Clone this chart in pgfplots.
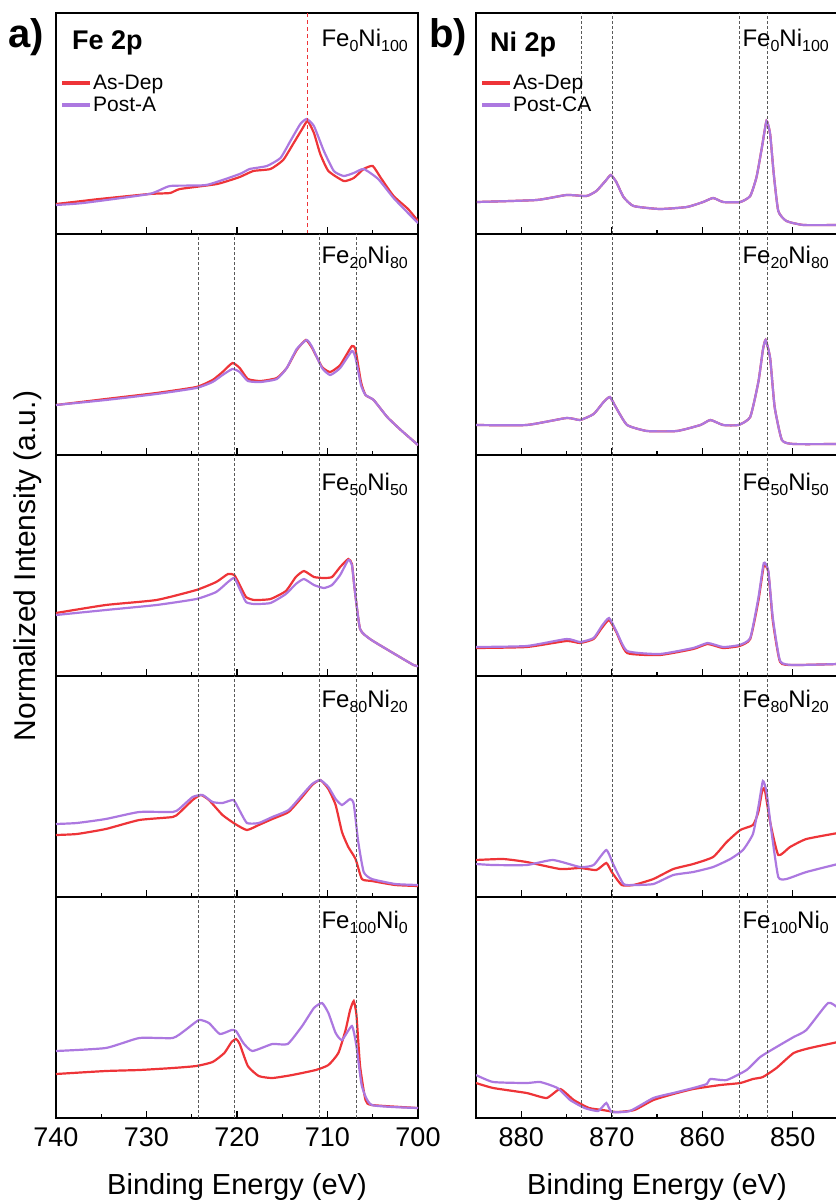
\documentclass[border=0pt]{standalone}
\usepackage{fontspec}
\setmainfont{Liberation Sans}
\usepackage{pgfplots}
\pgfplotsset{compat=1.18}
\definecolor{redc}{RGB}{238,52,56}
\definecolor{purc}{RGB}{172,120,224}
\newcommand{\sub}[1]{\raisebox{-5pt}{\fontsize{16}{16}\selectfont #1}}
\newcommand{\comp}[2]{Fe\sub{#1}Ni\sub{#2}}
\pgfplotsset{
 panel/.style={scale only axis, width=362pt, height=221pt, anchor=north west,
   ymin=0, ymax=221, ytick=\empty, tick align=inside, xtick pos=bottom,
   major tick length=7pt, minor tick length=4pt,
   axis line style={line width=1.1pt}, every tick/.style={black,line width=1.1pt},
   /pgf/number format/assume math mode=true,
   ticklabel style={font=\fontsize{27}{27}\selectfont}, xticklabel style={yshift=-6pt}},
 colL/.style={panel, xmin=700, xmax=740, x dir=reverse, xtick={700,710,720,730,740}, minor xtick={705,715,725,735}},
 colR/.style={panel, xmin=845, xmax=885, x dir=reverse, xtick={850,860,870,880}, minor xtick={855,865,875}},
 nolab/.style={xticklabels={}},
 rl/.style={color=redc, line width=2.2pt, smooth, tension=0.3},
 pl/.style={color=purc, line width=2.2pt, smooth, tension=0.3},
 vd/.style={black!65, line width=0.8pt, dash pattern=on 3pt off 2pt, forget plot},
 leg/.style={legend style={draw=none, fill=none, at={(0.011,0.725)}, anchor=north west,
    font=\fontsize{21}{21}\selectfont, inner sep=0pt, row sep=4pt, nodes={inner sep=1pt}},
  legend cell align=left,
  legend image code/.code={\draw[##1, line width=4pt] (0pt,0pt) -- (28pt,0pt);}},
}
\begin{document}
\begin{tikzpicture}
\useasboundingbox (0,0) rectangle (835pt,-1204pt);
% ---------------- LEFT COLUMN ----------------
\begin{axis}[colL, nolab, leg, at={(56pt,-13pt)}]
\addplot[rl] coordinates {(740,30) (737.1,33) (735.2,35) (729.7,40) (727.4,41) (726.3,45) (722.2,50) (719.7,57) (718.2,63) (716.3,65) (714.9,74) (713.8,90) (712.8,105) (712.2,113) (711.5,101) (710.8,80) (709.9,63) (708.2,53) (707.1,56) (706.0,65) (705.0,68) (704.1,56) (702.7,38) (701.1,25) (700,13)};
\addlegendentry{As-Dep}
\addplot[pl] coordinates {(740,29) (737,31) (729.7,40) (727.4,48) (723.4,49) (719.7,60) (718.6,65) (716.7,68) (715.2,76) (714.1,93) (713,110) (712.3,115) (711.5,108) (710.4,83) (709.3,63) (708.2,58) (707.1,61) (706,65) (704.4,55) (702.7,36) (701.1,21) (700,11)};
\addlegendentry{Post-A}
\draw[redc, line width=1.3pt, dash pattern=on 4pt off 3pt] (axis cs:712.2,0) -- (axis cs:712.2,221);
\end{axis}

\begin{axis}[colL, nolab, at={(56pt,-234pt)}]
\addplot[rl] coordinates {(740,50) (734.5,56) (728.9,62) (724.5,68) (722.7,75) (721.6,83) (720.5,92) (719.7,87) (718.8,76) (717.4,74) (715.6,77) (714.5,87) (713.4,105) (712.4,115) (711.7,107) (710.6,88) (709.7,83) (708.6,90) (707.3,109) (706.9,105) (706.3,73) (705.8,60) (704.9,55) (703.4,38) (701.9,25) (700,10)};
\addplot[pl] coordinates {(740,50) (734.5,55) (728.9,61) (724.5,67) (722.7,73) (721.6,80) (720.5,86) (719.7,83) (718.8,74) (717.4,73) (715.6,76) (714.5,87) (713.4,106) (712.3,115) (711.7,108) (710.6,87) (709.7,80) (708.6,87) (707.3,104) (706.9,97) (706.3,70) (705.8,60) (704.9,55) (703.4,38) (701.9,25) (700,10)};
\addplot[vd] coordinates {(724.3,0) (724.3,221)};
\addplot[vd] coordinates {(720.3,0) (720.3,221)};
\addplot[vd] coordinates {(710.9,0) (710.9,221)};
\addplot[vd] coordinates {(706.8,0) (706.8,221)};
\end{axis}

\begin{axis}[colL, nolab, at={(56pt,-455pt)}]
\addplot[rl] coordinates {(740,63) (734.5,71) (728.9,76) (724.5,86) (722.3,94) (721.0,102) (720.3,101) (719.7,91) (719.0,79) (718.1,76) (716.3,77) (714.6,85) (713.5,99) (712.6,105) (711.5,99) (710.4,98) (709.5,99) (708.6,109) (707.7,117) (707.3,112) (707.0,87) (706.4,47) (705.3,37) (703.5,27) (700.5,11) (700,10)};
\addplot[pl] coordinates {(740,61) (734.5,66) (728.9,71) (724.5,77) (722.3,84) (721.0,94) (720.3,98) (719.7,87) (719.0,74) (718.1,72) (716.3,73) (714.6,82) (713.5,92) (712.6,97) (711.5,91) (710.4,88) (709.5,91) (708.6,101) (707.7,116) (707.3,111) (707.0,87) (706.4,47) (705.3,37) (703.5,27) (700.5,11) (700,10)};
\addplot[vd] coordinates {(724.3,0) (724.3,221)};
\addplot[vd] coordinates {(720.3,0) (720.3,221)};
\addplot[vd] coordinates {(710.9,0) (710.9,221)};
\addplot[vd] coordinates {(706.8,0) (706.8,221)};
\end{axis}

\begin{axis}[colL, nolab, at={(56pt,-676pt)}]
\addplot[rl] coordinates {(740,62) (737.7,63) (734.5,68) (730.8,77) (727.1,80) (726.4,84) (724.9,97) (724.0,102) (723.1,97) (721.6,82) (720.2,73) (718.9,67) (717.6,72) (716.1,78) (714.3,85) (712.8,100) (711.7,112) (710.8,117) (709.9,108) (709.1,92) (708.4,65) (707.7,50) (706.9,38) (706.2,18) (705.1,16) (702.5,12) (700,11)};
\addplot[pl] coordinates {(740,73) (737.7,74) (734.5,78) (730.8,85) (727.1,85) (726.4,88) (724.9,100) (723.8,102) (722.7,95) (721.6,94) (720.4,97) (719.8,88) (718.9,74) (717.6,74) (716.1,80) (714.3,87) (712.8,102) (711.7,113) (710.8,117) (709.9,110) (709.1,98) (708.4,92) (707.5,98) (707.1,93) (706.6,55) (706.0,25) (705.1,18) (702.5,13) (700,12)};
\addplot[vd] coordinates {(724.3,0) (724.3,221)};
\addplot[vd] coordinates {(720.3,0) (720.3,221)};
\addplot[vd] coordinates {(710.9,0) (710.9,221)};
\addplot[vd] coordinates {(706.8,0) (706.8,221)};
\end{axis}

\begin{axis}[colL, at={(56pt,-897pt)}]
\addplot[rl] coordinates {(740,44) (734.5,47) (730.8,48) (727.1,50) (724.5,52) (722.7,56) (721.4,65) (720.6,76) (720.1,79) (719.7,74) (718.8,52) (717.6,42) (716.1,40) (713.9,43) (711.3,48) (709.9,53) (708.8,65) (708.0,88) (707.5,108) (707.1,117) (706.8,103) (706.4,52) (705.8,18) (705.1,13) (700,10)};
\addplot[pl] coordinates {(740,67) (734.5,70) (730.8,80) (727.1,80) (725.7,88) (724.2,98) (723.1,95) (721.9,84) (720.6,88) (720.1,87) (719.3,75) (718.3,67) (716.1,74) (714.4,74) (712.8,92) (711.5,110) (710.6,115) (709.9,105) (709.1,85) (708.4,78) (707.3,92) (706.8,72) (706.2,32) (705.1,13) (700,10)};
\addplot[vd] coordinates {(724.3,0) (724.3,221)};
\addplot[vd] coordinates {(720.3,0) (720.3,221)};
\addplot[vd] coordinates {(710.9,0) (710.9,221)};
\addplot[vd] coordinates {(706.8,0) (706.8,221)};
\end{axis}

% ---------------- RIGHT COLUMN ----------------
\begin{axis}[colR, nolab, leg, at={(476pt,-13pt)}]
\addplot[rl] coordinates {(884.9,32) (878.3,34) (875.0,39) (872.8,38) (871.7,43) (870.7,53) (870.1,59) (869.5,52) (868.7,37) (867.6,28) (864.7,25) (861.7,27) (859.9,32) (858.8,36) (857.7,32) (855.8,32) (854.7,38) (854.0,57) (853.4,87) (852.9,113) (852.5,100) (852.1,60) (851.6,23) (850.7,13) (848.8,9) (845,9)};
\addlegendentry{As-Dep}
\addplot[pl] coordinates {(884.9,32) (878.3,34) (875.0,39) (872.8,38) (871.7,43) (870.7,53) (870.1,59) (869.5,52) (868.7,37) (867.6,28) (864.7,25) (861.7,27) (859.9,32) (858.8,36) (857.7,32) (855.8,32) (854.7,38) (854.0,57) (853.4,87) (852.9,113) (852.5,100) (852.1,60) (851.6,23) (850.7,13) (848.8,9) (845,9)};
\addlegendentry{Post-CA}
\addplot[vd] coordinates {(873.4,0) (873.4,221)};
\addplot[vd] coordinates {(869.9,0) (869.9,221)};
\addplot[vd] coordinates {(855.9,0) (855.9,221)};
\addplot[vd] coordinates {(852.8,0) (852.8,221)};
\end{axis}

\begin{axis}[colR, nolab, at={(476pt,-234pt)}]
\addplot[rl] coordinates {(885,30) (879.4,30) (875.0,37) (873.5,35) (872.0,41) (870.9,53) (870.2,58) (869.5,47) (868.3,30) (866.1,24) (862.8,24) (860.2,30) (859.1,35) (857.7,30) (856.0,30) (854.7,38) (853.8,73) (853.3,105) (853.0,115) (852.5,97) (852.0,48) (851.2,15) (849.9,11) (845,11)};
\addplot[pl] coordinates {(885,30) (879.4,30) (875.0,37) (873.5,35) (872.0,41) (870.9,53) (870.2,58) (869.5,47) (868.3,30) (866.1,24) (862.8,24) (860.2,30) (859.1,35) (857.7,30) (856.0,30) (854.7,38) (853.8,73) (853.3,105) (853.0,115) (852.5,97) (852.0,48) (851.2,15) (849.9,11) (845,11)};
\addplot[vd] coordinates {(873.4,0) (873.4,221)};
\addplot[vd] coordinates {(869.9,0) (869.9,221)};
\addplot[vd] coordinates {(855.9,0) (855.9,221)};
\addplot[vd] coordinates {(852.8,0) (852.8,221)};
\end{axis}

\begin{axis}[colR, nolab, at={(476pt,-455pt)}]
\addplot[rl] coordinates {(885,28) (879.4,29) (875.0,35) (873.5,33) (872.0,37) (871.1,48) (870.3,56) (869.5,44) (868.3,23) (864.7,21) (861.0,27) (859.4,32) (857.7,28) (855.9,30) (854.7,37) (853.8,75) (853.2,110) (852.7,104) (852.2,55) (851.4,14) (849.9,11) (845,12)};
\addplot[pl] coordinates {(885,29) (879.4,30) (875.0,37) (873.5,34) (872.0,38) (871.1,50) (870.3,58) (869.5,45) (868.3,25) (864.7,22) (861.0,28) (859.4,33) (857.7,29) (855.9,31) (854.7,38) (853.8,78) (853.2,113) (852.7,105) (852.2,58) (851.4,15) (849.9,11) (845,12)};
\addplot[vd] coordinates {(873.4,0) (873.4,221)};
\addplot[vd] coordinates {(869.9,0) (869.9,221)};
\addplot[vd] coordinates {(855.9,0) (855.9,221)};
\addplot[vd] coordinates {(852.8,0) (852.8,221)};
\end{axis}

\begin{axis}[colR, nolab, at={(476pt,-676pt)}]
\addplot[rl] coordinates {(885,37) (882.0,38) (879.4,35) (875.7,28) (873.5,29) (871.7,27) (870.6,34) (870.0,25) (868.9,12) (867.6,12) (865.4,18) (863.2,28) (861.0,33) (858.8,40) (857.3,55) (855.8,67) (854.4,72) (853.8,85) (853.4,105) (853.1,108) (852.5,75) (851.6,42) (850.3,50) (848.5,58) (845,64)};
\addplot[pl] coordinates {(885,33) (883.1,32) (879.4,32) (876.5,37) (873.5,30) (872.0,32) (870.6,47) (869.8,32) (868.7,13) (867.6,12) (865.4,13) (863.2,22) (861.0,25) (858.8,30) (856.9,38) (855.5,47) (854.4,63) (853.8,90) (853.3,116) (852.9,105) (852.3,62) (851.6,20) (850.7,18) (848.5,25) (845,33)};
\addplot[vd] coordinates {(873.4,0) (873.4,221)};
\addplot[vd] coordinates {(869.9,0) (869.9,221)};
\addplot[vd] coordinates {(855.9,0) (855.9,221)};
\addplot[vd] coordinates {(852.8,0) (852.8,221)};
\end{axis}

\begin{axis}[colR, at={(476pt,-897pt)}]
\addplot[rl] coordinates {(885,35) (883.1,30) (879.4,25) (877.2,20) (875.7,29) (874.2,18) (872.5,10) (871,8) (869.5,6) (867.5,8) (865.4,18) (863.2,24) (861.0,29) (858,33) (855.8,35) (854.4,39) (853.3,41) (851.8,50) (849.9,65) (848.1,70) (845,76)};
\addplot[pl] coordinates {(885,43) (883.1,36) (879.4,35) (877.9,36) (876.0,30) (874.6,18) (873,10) (871.5,7) (870.6,15) (870,6) (868,7) (865.4,20) (863.2,25) (861,30) (859.5,34) (859.1,39) (857.3,38) (855.1,48) (853.6,61) (851.8,71) (849.9,81) (848.5,88) (846.1,115) (845,110)};
\addplot[vd] coordinates {(873.4,0) (873.4,221)};
\addplot[vd] coordinates {(869.9,0) (869.9,221)};
\addplot[vd] coordinates {(855.9,0) (855.9,221)};
\addplot[vd] coordinates {(852.8,0) (852.8,221)};
\end{axis}

% ---------------- TEXT ----------------
\node[anchor=west, font=\bfseries\fontsize{40}{40}\selectfont, inner sep=0pt] at (8pt,-37pt) {a)};
\node[anchor=west, font=\bfseries\fontsize{40}{40}\selectfont, inner sep=0pt] at (429pt,-37pt) {b)};
\node[anchor=base west, font=\bfseries\fontsize{27}{27}\selectfont, inner sep=0pt] at (72pt,-50pt) {Fe 2p};
\node[anchor=base west, font=\bfseries\fontsize{27}{27}\selectfont, inner sep=0pt] at (490pt,-52pt) {Ni 2p};
\foreach \yb/\a/\b in {47/0/100, 263/20/80, 490/50/50, 707/80/20, 928/100/0}{
  \node[anchor=base east, font=\fontsize{24}{24}\selectfont, inner sep=0pt] at (408pt,-\yb pt) {\comp{\a}{\b}};
  \node[anchor=base east, font=\fontsize{24}{24}\selectfont, inner sep=0pt] at (829pt,-\yb pt) {\comp{\a}{\b}};
}
\node[rotate=90, font=\fontsize{30}{30}\selectfont, inner sep=0pt] at (28pt,-566pt) {Normalized Intensity (a.u.)};
\node[anchor=base, font=\fontsize{29}{29}\selectfont, inner sep=0pt] at (237pt,-1194pt) {Binding Energy (eV)};
\node[anchor=base, font=\fontsize{29}{29}\selectfont, inner sep=0pt] at (657pt,-1194pt) {Binding Energy (eV)};
\end{tikzpicture}
\end{document}
